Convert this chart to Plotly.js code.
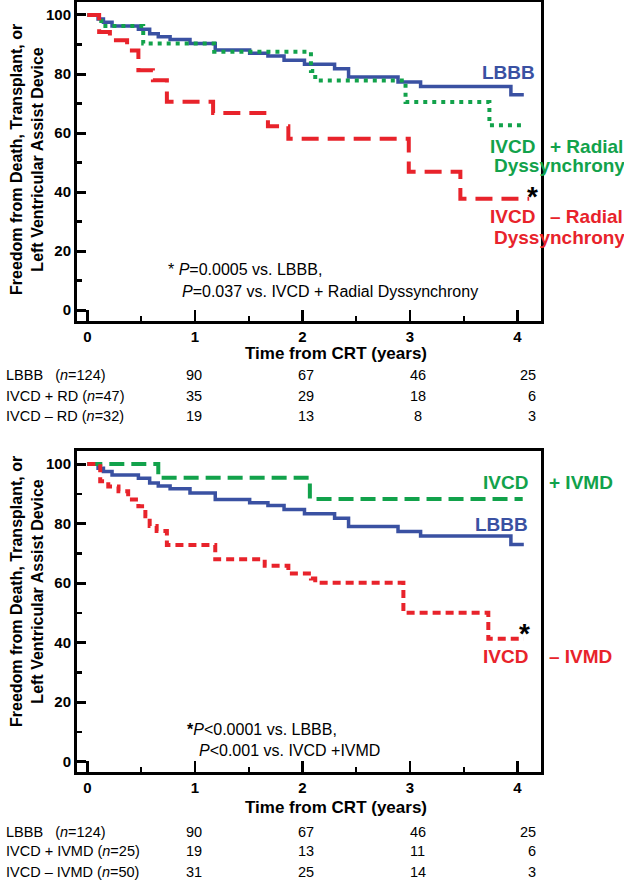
<!DOCTYPE html>
<html>
<head>
<meta charset="utf-8">
<script src="https://cdn.plot.ly/plotly-3.0.1.min.js"></script>
<style>
  html, body { margin: 0; padding: 0; background: #ffffff; }
  #chart { width: 624px; height: 881px; }
</style>
</head>
<body>
<div id="chart"></div>
<script>
// ---------------- DATA ----------------
// Kaplan-Meier steps (time in years, % free from event)
const tLBBB = [0, 0.10, 0.15, 0.23, 0.475, 0.58, 0.66, 0.77, 0.955, 1.19, 1.51, 1.68, 1.83, 2.02, 2.30, 2.43, 2.89, 3.10, 3.94, 4.06];
const sLBBB = [100, 98.6, 97.5, 96.3, 95.2, 93.6, 92.6, 91.7, 90.3, 88.1, 87.0, 86.1, 84.7, 83.3, 81.8, 79.0, 77.3, 75.8, 73.0, 73.0];

const tRadPos = [0, 0.13, 0.52, 1.18, 2.08, 2.12, 2.96, 3.74, 4.06];
const sRadPos = [100, 96.3, 90.3, 87.5, 81.0, 77.8, 70.5, 62.6, 62.6];

const tRadNeg = [0, 0.11, 0.21, 0.37, 0.475, 0.61, 0.74, 1.17, 1.68, 1.87, 2.99, 3.47, 4.11];
const sRadNeg = [100, 94.2, 91.4, 88.0, 81.3, 77.9, 70.6, 66.8, 62.3, 58.1, 46.9, 37.7, 37.7];

const tIvmdPos = [0, 0.66, 2.07, 4.05];
const sIvmdPos = [100, 95.4, 88.3, 88.3];

const tIvmdNeg = [0, 0.12, 0.195, 0.29, 0.38, 0.475, 0.54, 0.58, 0.645, 0.74, 1.19, 1.65, 1.87, 2.08, 2.12, 2.94, 3.73, 4.06];
const sIvmdNeg = [100, 94.2, 92.5, 90.9, 88.1, 85.8, 82.5, 79.2, 77.5, 72.8, 68.0, 65.8, 63.2, 61.5, 60.1, 50.0, 41.3, 41.3];

// axis ticks
const xTicks = [0, 1, 2, 3, 4];
const yTicks = [0, 20, 40, 60, 80, 100];

// numbers at risk
const riskTopLabels = ["LBBB\u00a0\u00a0\u00a0(<i>n</i>=124)", "IVCD + RD (<i>n</i>=47)", "IVCD \u2013 RD (<i>n</i>=32)"];
const riskTopValues = [[90, 67, 46, 25], [35, 29, 18, 6], [19, 13, 8, 3]];
const riskBotLabels = ["LBBB\u00a0\u00a0\u00a0(<i>n</i>=124)", "IVCD + IVMD (<i>n</i>=25)", "IVCD \u2013 IVMD (<i>n</i>=50)"];
const riskBotValues = [[90, 67, 46, 25], [19, 13, 11, 6], [31, 25, 14, 3]];

// ---------------- STYLE ----------------
const W = 624, H = 881;
const FONT = "Liberation Sans, Arial, Helvetica, sans-serif";
const BLUE = "#3a51a2", GREEN = "#12a24b", RED = "#e8232b";
const P = px => px / W;
const Q = py => 1 - py / H;

function trace(t, s, xa, ya, color, dash, width) {
  return { x: t, y: s, xaxis: xa, yaxis: ya, type: "scatter", mode: "lines",
           line: { shape: "hv", color: color, dash: dash, width: width },
           hoverinfo: "skip" };
}

const data = [
  trace(tLBBB, sLBBB, "x", "y", BLUE, "solid", 3.5),
  trace(tRadPos, sRadPos, "x", "y", GREEN, "4px,5px", 4),
  trace(tRadNeg, sRadNeg, "x", "y", RED, "17px,9px", 4),
  trace(tLBBB, sLBBB, "x2", "y2", BLUE, "solid", 3.5),
  trace(tIvmdPos, sIvmdPos, "x2", "y2", GREEN, "15px,7px", 4),
  trace(tIvmdNeg, sIvmdNeg, "x2", "y2", RED, "8px,5px", 4)
];

function xAxis(dom, anchor) {
  return {
    domain: dom, anchor: anchor, range: [-0.096, 4.22],
    tickvals: xTicks, ticktext: xTicks.map(String),
    ticks: "inside", ticklen: 11, tickwidth: 2.5, tickcolor: "#000",
    minor: { dtick: 0.5, tick0: 0, ticks: "inside", ticklen: 5, tickwidth: 2, tickcolor: "#000" },
    showline: true, linewidth: 3, linecolor: "#000", mirror: true,
    showgrid: false, zeroline: false,
    tickfont: { family: FONT, size: 15, weight: "bold", color: "#000" }
  };
}
function yAxis(dom, anchor) {
  return {
    domain: dom, anchor: anchor, range: [-3.53, 104.4],
    tickvals: yTicks, ticktext: yTicks.map(String),
    ticks: "inside", ticklen: 9, tickwidth: 3, tickcolor: "#000",
    minor: { dtick: 10, tick0: 0, ticks: "inside", ticklen: 5, tickwidth: 2.5, tickcolor: "#000" },
    showline: true, linewidth: 3, linecolor: "#000", mirror: true,
    showgrid: false, zeroline: false,
    tickfont: { family: FONT, size: 15, weight: "bold", color: "#000" }
  };
}

const ann = [];
function A(text, px, py, opts) {
  ann.push(Object.assign({
    text: text, x: P(px), y: Q(py), xref: "paper", yref: "paper",
    showarrow: false, xanchor: "left", yanchor: "middle",
    font: { family: FONT, size: 14.5, color: "#000" }
  }, opts || {}));
}
const bold = (size, color) => ({ family: FONT, size: size, weight: "bold", color: color || "#000" });

// y-axis titles
const yTitle = "Freedom from Death, Transplant, or<br>Left Ventricular Assist Device";
A(yTitle, 27, 160, { xanchor: "center", textangle: -90, font: bold(16) });
A(yTitle, 27, 592, { xanchor: "center", textangle: -90, font: bold(16) });
// x-axis titles
A("Time from CRT (years)", 336, 353, { xanchor: "center", font: bold(17) });
A("Time from CRT (years)", 336, 807, { xanchor: "center", font: bold(17) });

// top chart curve labels
A("LBBB", 537, 72, { xanchor: "right", font: bold(19, BLUE) });
A("IVCD", 537, 146, { xanchor: "right", font: bold(19, GREEN) });
A("+ Radial", 548, 146, { font: bold(19, GREEN) });
A("Dyssynchrony", 492, 166, { font: bold(19, GREEN) });
A("IVCD", 537, 216, { xanchor: "right", font: bold(19, RED) });
A("\u2013 Radial", 548, 216, { font: bold(19, RED) });
A("Dyssynchrony", 492, 237, { font: bold(19, RED) });
A("*", 532, 196, { xanchor: "center", font: bold(28) });

// bottom chart curve labels
A("IVCD", 530, 483, { xanchor: "right", font: bold(19, GREEN) });
A("+ IVMD", 547, 483, { font: bold(19, GREEN) });
A("LBBB", 530, 524, { xanchor: "right", font: bold(19, BLUE) });
A("IVCD", 530, 656, { xanchor: "right", font: bold(19, RED) });
A("\u2013 IVMD", 547, 656, { font: bold(19, RED) });
A("*", 524, 633, { xanchor: "center", font: bold(28) });

// p-value notes
const note = { family: FONT, size: 16, color: "#000" };
A("* <i>P</i>=0.0005 vs. LBBB,", 166, 270, { font: note });
A("<i>P</i>=0.037 vs. IVCD + Radial Dyssynchrony", 180, 291, { font: note });
A("<b>*</b><i>P</i>&lt;0.0001 vs. LBBB,", 185, 729, { font: note });
A("<i>P</i>&lt;0.001 vs. IVCD +IVMD", 197, 750, { font: note });

// numbers-at-risk tables
const colX = [194, 306, 418];
function table(labels, values, rowsY) {
  labels.forEach((lab, i) => {
    A(lab, 4, rowsY[i]);
    values[i].forEach((v, j) => {
      if (j < 3) A(String(v), colX[j], rowsY[i], { xanchor: "center" });
      else A(String(v), 538, rowsY[i], { xanchor: "right" });
    });
  });
}
table(riskTopLabels, riskTopValues, [375, 396, 416]);
table(riskBotLabels, riskBotValues, [832, 851, 872]);

const layout = {
  width: W, height: H,
  margin: { l: 0, r: 0, t: 0, b: 0 },
  paper_bgcolor: "#fff", plot_bgcolor: "#fff",
  showlegend: false, hovermode: false,
  font: { family: FONT, color: "#000" },
  xaxis: xAxis([P(77), P(541)], "y"),
  yaxis: yAxis([Q(320.5), Q(2)], "x"),
  xaxis2: xAxis([P(77), P(541)], "y2"),
  yaxis2: yAxis([Q(772), Q(451)], "x2"),
  annotations: ann
};

Plotly.newPlot("chart", data, layout, { staticPlot: true, displayModeBar: false });
</script>
</body>
</html>
